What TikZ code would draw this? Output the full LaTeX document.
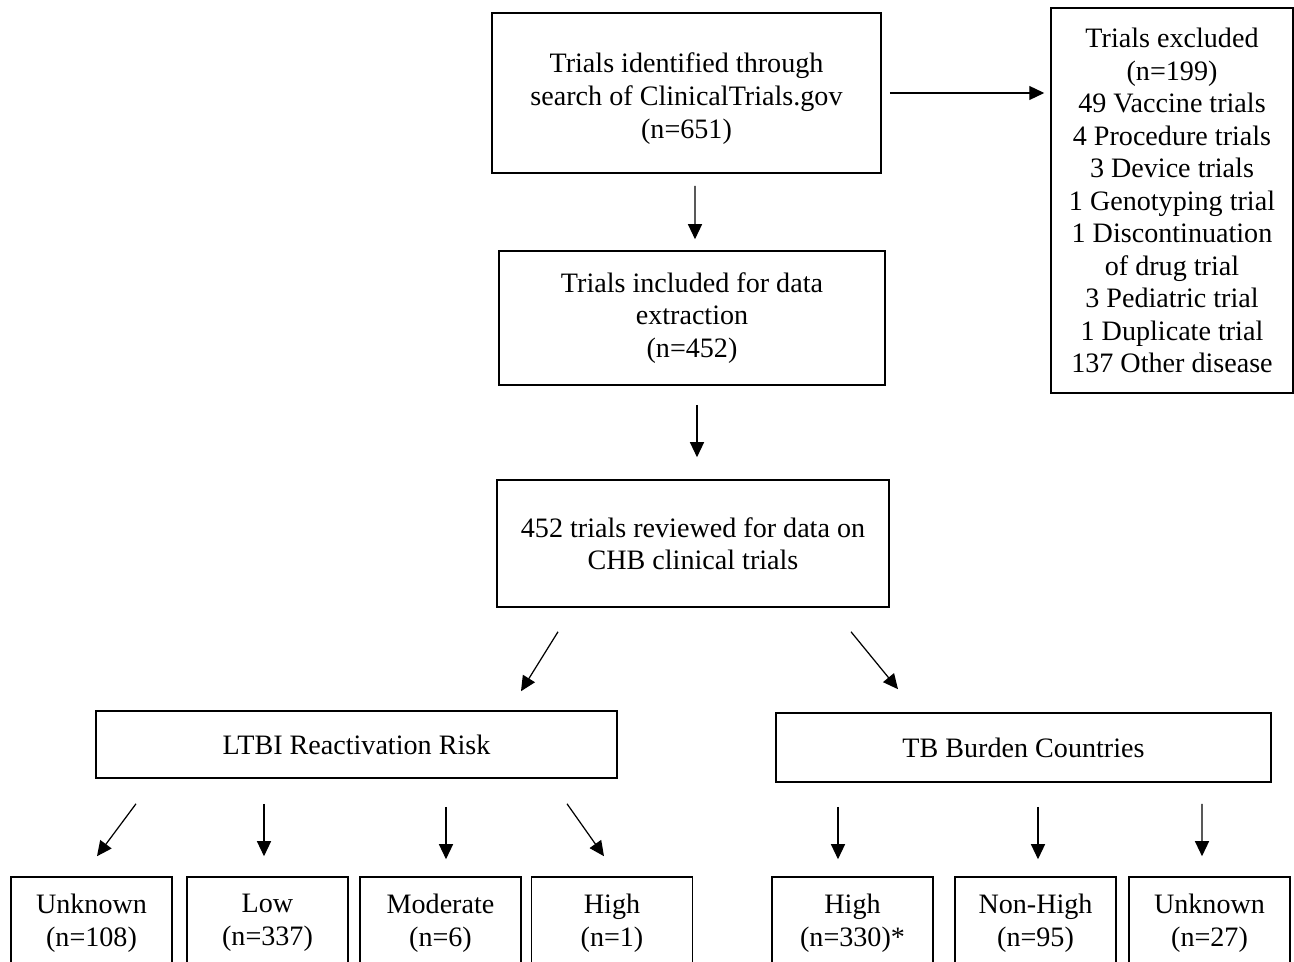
\documentclass[tikz,border=0pt]{standalone}
\usepackage{fontspec}
\setmainfont{Liberation Serif}
\usetikzlibrary{arrows.meta,calc}
\tikzset{box/.style={draw, line width=0.9pt, align=center, inner sep=2pt, font=\fontsize{16}{18.5}\selectfont}}
\tikzset{arr/.style={-{Triangle[length=0.3cm,width=0.28cm]}, line width=0.7pt}}

\begin{document}
\begin{tikzpicture}[x=0.02cm, y=-0.02cm]
	\clip (0,0) rectangle (1294,962);
	% upper part
	\node[box, minimum width=7.78cm, minimum height=3.2cm] (found) at (686.5,93) {\rule{0pt}{0.62cm}Trials identified through\\search of ClinicalTrials.gov\\(n=651)};
	\node[box, minimum width=4.84cm, minimum height=7.7cm] (excl) at (1172,200.5) {Trials excluded\\(n=199)\\49 Vaccine trials\\4 Procedure trials\\3 Device trials\\1 Genotyping trial\\1 Discontinuation\\of drug trial\\3 Pediatric trial\\1 Duplicate trial\\137 Other disease};
	\node[box, minimum width=7.72cm, minimum height=2.68cm] (incl) at (692,318) {Trials included for data\\extraction\\(n=452)};
	\node[box, minimum width=7.84cm, minimum height=2.54cm] (rev) at (693,543.5) {452 trials reviewed for data on\\CHB clinical trials};
	% the two groups
	\node[box, minimum width=10.42cm, minimum height=1.34cm] (ltbi) at (356.5,744.5) {LTBI Reactivation Risk};
	\node[box, minimum width=9.9cm, minimum height=1.38cm] (tb) at (1023.5,747.5) {TB Burden Countries};
	% bottom row
	\node[box, minimum width=3.22cm, minimum height=1.84cm] (lunk) at (91.5,923) {Unknown\\(n=108)};
	\node[box, minimum width=3.22cm, minimum height=1.84cm] (llow) at (267.5,923) {Low\\(n=337)};
	\node[box, minimum width=3.22cm, minimum height=1.84cm] (lmod) at (440.5,923) {Moderate\\(n=6)};
	\node[box, minimum width=3.22cm, minimum height=1.84cm] (lhigh) at (612,923) {High\\(n=1)};
	\node[box, minimum width=3.22cm, minimum height=1.84cm] (thigh) at (852.5,923) {High\\(n=330)*};
	\node[box, minimum width=3.22cm, minimum height=1.84cm] (tnon) at (1035.5,923) {Non-High\\(n=95)};
	\node[box, minimum width=3.22cm, minimum height=1.84cm] (tunk) at (1209.5,923) {Unknown\\(n=27)};
	% arrows
	\draw[arr, shorten <=0.16cm, shorten >=0.12cm] (found.east) -- (found.east -| excl.west);
	\draw[arr] ($(found.south)+(8.5,12)$) -- ($(incl.north)+(3,-11)$);
	\draw[arr] ($(incl.south)+(5,19)$) -- ($(rev.north)+(4,-22)$);
	\draw[arr] ($(rev.south)+(-135,24)$) -- ($(ltbi.north)+(164.5,-19)$);
	\draw[arr] ($(rev.south)+(158,24)$) -- ($(tb.north)+(-125.5,-23)$);
	\draw[arr] ($(ltbi.south)+(-220.5,25)$) -- ($(lunk.north)+(5.5,-20)$);
	\draw[arr] ($(ltbi.south)+(-92.5,25)$) -- ($(llow.north)+(-3.5,-20)$);
	\draw[arr] ($(ltbi.south)+(89.5,28)$) -- ($(lmod.north)+(5.5,-17)$);
	\draw[arr] ($(ltbi.south)+(210.5,25)$) -- ($(lhigh.north)+(-8,-20)$);
	\draw[arr] ($(tb.south)+(-185.5,24)$) -- ($(thigh.north)+(-14.5,-17)$);
	\draw[arr] ($(tb.south)+(14.5,24)$) -- ($(tnon.north)+(2.5,-17)$);
	\draw[arr] ($(tb.south)+(178.5,21)$) -- ($(tunk.north)+(-7.5,-20)$);
\end{tikzpicture}
\end{document}
